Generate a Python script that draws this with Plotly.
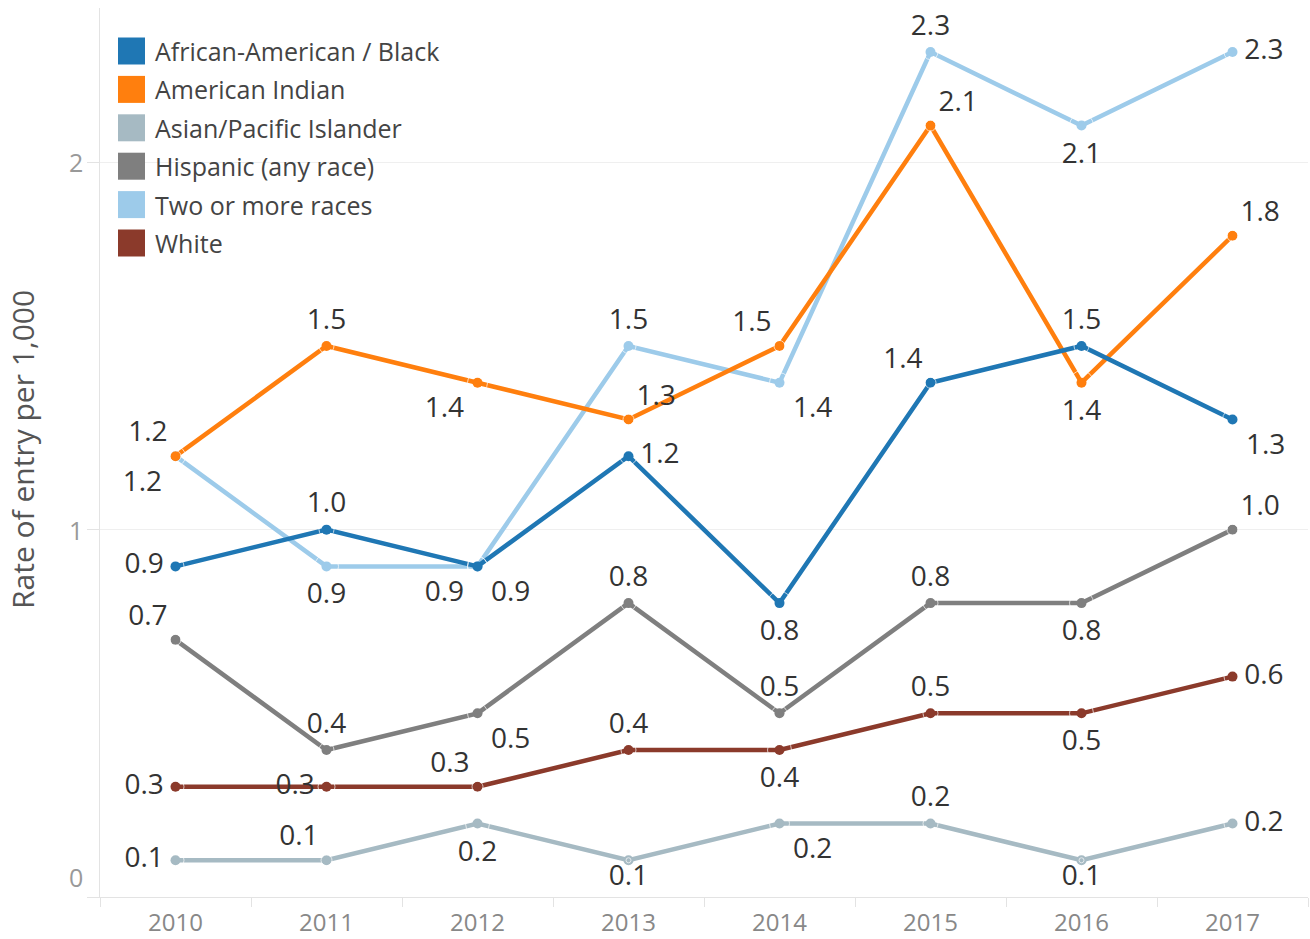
import plotly.graph_objects as go

# ---------------- data ----------------
years = ["2010", "2011", "2012", "2013", "2014", "2015", "2016", "2017"]

series_names = [
    "African-American / Black",
    "American Indian",
    "Asian/Pacific Islander",
    "Hispanic (any race)",
    "Two or more races",
    "White",
]

black = [0.9, 1.0, 0.9, 1.2, 0.8, 1.4, 1.5, 1.3]
american_indian = [1.2, 1.5, 1.4, 1.3, 1.5, 2.1, 1.4, 1.8]
asian_pi = [0.1, 0.1, 0.2, 0.1, 0.2, 0.2, 0.1, 0.2]
hispanic = [0.7, 0.4, 0.5, 0.8, 0.5, 0.8, 0.8, 1.0]
two_or_more = [1.2, 0.9, 0.9, 1.5, 1.4, 2.3, 2.1, 2.3]
white = [0.3, 0.3, 0.3, 0.4, 0.4, 0.5, 0.5, 0.6]

y_ticks = [0, 1, 2]
y_title = "Rate of entry per 1,000"

# ---------------- styles ----------------
colors = ["#1f77b4", "#ff7f0e", "#a6bac3", "#7f7f7f", "#9dcbea", "#8b3a2b"]

label_pos = {
    "African-American / Black": ["middle left", "top center", "bottom left", "middle right",
                                 "bottom center", "top left", "top center", "bottom right"],
    "American Indian": ["top left", "top center", "bottom left", "top right",
                        "top left", "top right", "bottom center", "top right"],
    "Asian/Pacific Islander": ["middle left", "top left", "bottom center", "bottom center",
                               "bottom right", "top center", "bottom center", "middle right"],
    "Hispanic (any race)": ["top left", "top center", "bottom right", "top center",
                            "top center", "top center", "bottom center", "top right"],
    "Two or more races": ["bottom left", "bottom center", "bottom right", "top center",
                          "bottom right", "top center", "bottom center", "middle right"],
    "White": ["middle left", "middle left", "top left", "top center",
              "bottom center", "top center", "bottom center", "middle right"],
}

# invisible "spacer" marker size per label position -> controls label gap
gap_size = {
    "top center": 15, "bottom center": 24,
    "middle left": 17, "middle right": 17,
    "top left": 11, "top right": 11,
    "bottom left": 20, "bottom right": 20,
}
# labels squeezed against the axis in the original
gap_override = {("Asian/Pacific Islander", 3): 5, ("Asian/Pacific Islander", 6): 5}

values = [black, american_indian, asian_pi, hispanic, two_or_more, white]

FONT = "Open Sans, Noto Sans, sans-serif"
W, H = 1310, 939
ML, MR, MT, MB = 100, 2, 8, 42
PW = W - ML - MR
PH = H - MT - MB


def px2x(px):
    return (px - ML) / PW


def py2y(py):
    return (H - MB - py) / PH


fig = go.Figure()

# draw order: Two or more at the bottom, Black on top
draw_order = [4, 5, 3, 2, 1, 0]
for i in draw_order:
    fig.add_trace(go.Scatter(
        x=years,
        y=values[i],
        name=series_names[i],
        mode="lines+markers",
        line=dict(color=colors[i], width=4.5),
        marker=dict(color=colors[i], size=10),
        showlegend=False,
        hoverinfo="x+y+name",
    ))

# value labels on top of all lines
for i in draw_order:
    name = series_names[i]
    vals = values[i]
    sizes = [gap_override.get((name, j), gap_size[p]) for j, p in enumerate(label_pos[name])]
    fig.add_trace(go.Scatter(
        x=years,
        y=vals,
        mode="markers+text",
        marker=dict(color="rgba(0,0,0,0)", size=sizes),
        text=[f"{v:.1f}" for v in vals],
        textposition=label_pos[name],
        textfont=dict(family=FONT, size=28, color="#333333"),
        cliponaxis=False,
        showlegend=False,
        hoverinfo="skip",
    ))

# ---------------- legend (drawn as shapes + text) ----------------
shapes = []
annotations = []
leg_x0, leg_sq = 118, 27
leg_y0, leg_dy = 51, 38.4
for k, (name, col) in enumerate(zip(series_names, colors)):
    cy = leg_y0 + k * leg_dy
    shapes.append(dict(
        type="rect", xref="paper", yref="paper",
        x0=px2x(leg_x0), x1=px2x(leg_x0 + leg_sq),
        y0=py2y(cy + leg_sq / 2), y1=py2y(cy - leg_sq / 2),
        fillcolor=col, line=dict(width=0), layer="above",
    ))
    annotations.append(dict(
        xref="paper", yref="paper", x=px2x(leg_x0 + leg_sq + 8), y=py2y(cy),
        text=name, showarrow=False, xanchor="left", yanchor="middle",
        font=dict(family=FONT, size=25, color="#444444"),
    ))

# y tick labels (Tableau lifts the bottom label above the baseline)
for v in y_ticks:
    annotations.append(dict(
        xref="paper", yref="y", x=0, y=v, text=str(v), showarrow=False,
        xanchor="right", yanchor="middle", xshift=-15,
        yshift=20 if v == 0 else 0,
        font=dict(family=FONT, size=25, color="#999999"),
    ))

# y axis title
annotations.append(dict(
    xref="paper", yref="paper", x=px2x(22), y=py2y(450), text=y_title,
    showarrow=False, textangle=-90, xanchor="center", yanchor="middle",
    font=dict(family=FONT, size=30, color="#555555"),
))

fig.update_layout(
    width=W, height=H,
    margin=dict(l=ML, r=MR, t=MT, b=MB),
    paper_bgcolor="white",
    plot_bgcolor="white",
    showlegend=False,
    shapes=shapes,
    annotations=annotations,
    font=dict(family=FONT),
)

fig.update_xaxes(
    type="category",
    range=[-0.5, len(years) - 0.5],
    tickson="boundaries",
    ticks="outside", ticklen=9, tickcolor="#e3e3e3", tickwidth=1,
    ticklabelstandoff=4,
    showgrid=False,
    showline=True, linecolor="#e3e3e3", linewidth=1,
    tickfont=dict(family=FONT, size=24, color="#888888"),
    fixedrange=True,
)

fig.update_yaxes(
    range=[0, 2.42],
    tickvals=y_ticks,
    showticklabels=False,
    ticks="outside", ticklen=12, tickcolor="#e3e3e3", tickwidth=1,
    showgrid=True, gridcolor="#efefef", gridwidth=1,
    zeroline=False,
    showline=True, linecolor="#e3e3e3", linewidth=1,
    fixedrange=True,
)

fig.write_html(
    "out.html",
    config={"displayModeBar": False},
    post_script="document.body.style.margin='0';document.body.style.padding='0';",
)
